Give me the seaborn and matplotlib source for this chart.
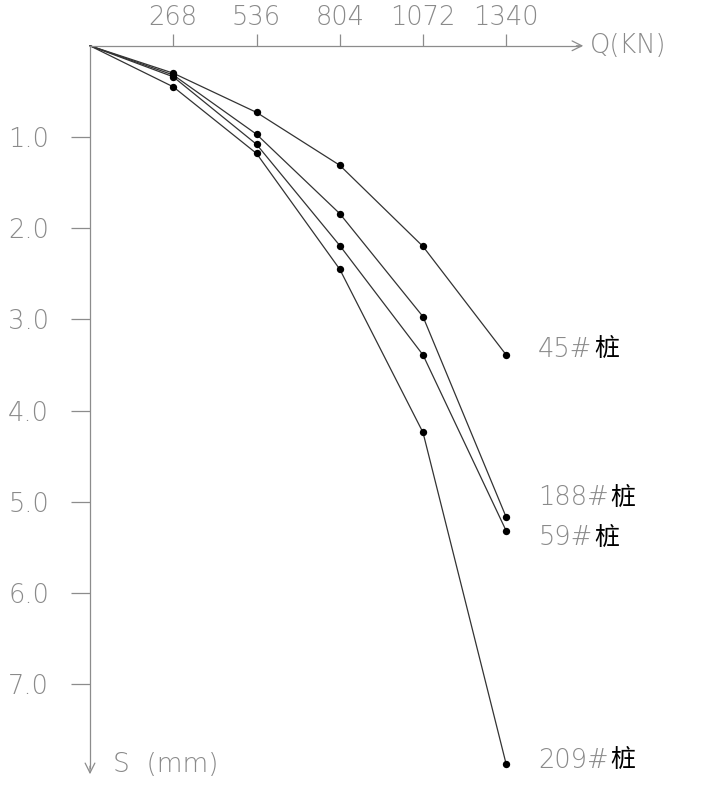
import numpy as np
import pandas as pd
import seaborn as sns
import matplotlib.pyplot as plt

# 荷载 Q (kN) 与沉降 S (mm)
load = [0, 268, 536, 804, 1072, 1340]
s_45 = [0, 0.30, 0.73, 1.31, 2.20, 3.39]
s_188 = [0, 0.32, 0.97, 1.84, 2.97, 5.17]
s_59 = [0, 0.34, 1.08, 2.19, 3.39, 5.32]
s_209 = [0, 0.45, 1.18, 2.45, 4.24, 7.88]
piles = ['45#', '188#', '59#', '209#']
y_ticks = [1.0, 2.0, 3.0, 4.0, 5.0, 6.0, 7.0]

sns.set_style('white')
plt.rcParams['font.family'] = ['DejaVu Sans', 'Noto Sans CJK SC']
plt.rcParams['font.weight'] = 'light'

df = pd.DataFrame({
    'Q': load * 4,
    'S': s_45 + s_188 + s_59 + s_209,
    'pile': np.repeat(piles, len(load)),
})

fig = plt.figure(figsize=(7.15, 7.92), dpi=100)
ax = fig.add_axes([0, 0, 1, 1])

gray = '#8c8c8c'
tcol = '#8a8a8a'
sns.lineplot(data=df, x='Q', y='S', hue='pile', palette=['#333333'] * 4,
             sort=False, legend=False, lw=0.9, ax=ax)
pts = df[df['Q'] > 0]
sns.scatterplot(data=pts, x='Q', y='S', color='black', s=28,
                edgecolor='black', linewidth=0, legend=False, ax=ax, zorder=5)

# 坐标映射
kx = 333 / 1072.0
ky = 91.2
ax.set_xlim(-90 / kx, (715 - 90) / kx)
ax.set_ylim((792 - 45.8) / ky, -45.8 / ky)

# 坐标轴
for sp in ['bottom', 'right']:
    ax.spines[sp].set_visible(False)
ax.spines['top'].set_position(('data', 0))
ax.spines['left'].set_position(('data', 0))
x_end = (586 - 90) / kx
y_end = (777 - 45.8) / ky
ax.spines['top'].set_bounds(0, x_end - 20)
ax.spines['left'].set_bounds(0, y_end - 0.1)
for sp in ['top', 'left']:
    ax.spines[sp].set_color(gray)
    ax.spines[sp].set_linewidth(0.9)

ax.annotate('', xy=(x_end, 0), xytext=(x_end - 40, 0),
            arrowprops=dict(arrowstyle='->,head_length=0.7,head_width=0.35',
                            color=gray, lw=0.9))
ax.annotate('', xy=(0, y_end), xytext=(0, y_end - 0.15),
            arrowprops=dict(arrowstyle='->,head_length=0.7,head_width=0.35',
                            color=gray, lw=0.9))

ax.xaxis.tick_top()
ax.set_xticks(load[1:])
ax.set_xticklabels([str(v) for v in load[1:]])
ax.set_yticks(y_ticks)
ax.set_yticklabels([f'{v:.1f}' for v in y_ticks])
ax.tick_params(axis='x', top=True, bottom=False, direction='out', length=8.5,
               width=0.9, color=gray, pad=3, labelsize=18.5, labelcolor=tcol)
ax.tick_params(axis='y', left=True, direction='out', length=13.5,
               width=0.9, color=gray, pad=16, labelsize=18.5, labelcolor=tcol)
ax.set_xlabel('')
ax.set_ylabel('')
ax.grid(False)

ax.text((590 - 90) / kx, 0, 'Q(KN)', fontsize=18.5, color=tcol,
        va='center', ha='left')
ax.text((113 - 90) / kx, (765 - 45.8) / ky, 'S  (mm)', fontsize=19,
        color=tcol, va='center', ha='left')

# 桩号标注
ends = [s_45[-1], s_188[-1], s_59[-1], s_209[-1]]
offsets = [4, 14, -5, 3]
for name, s_end, dy in zip(piles, ends, offsets):
    t = ax.annotate(name, xy=(load[-1], s_end), xytext=(23, dy),
                    textcoords='offset points', fontsize=18.5,
                    color=tcol, va='center', ha='left')
    ax.annotate('桩', xy=(1, 0.5), xycoords=t, xytext=(1, 0),
                textcoords='offset points', fontsize=18, color='black',
                va='center', ha='left', family=['Noto Sans CJK SC'],
                fontweight='medium')

fig.savefig('out.png', dpi=100, facecolor='white')
